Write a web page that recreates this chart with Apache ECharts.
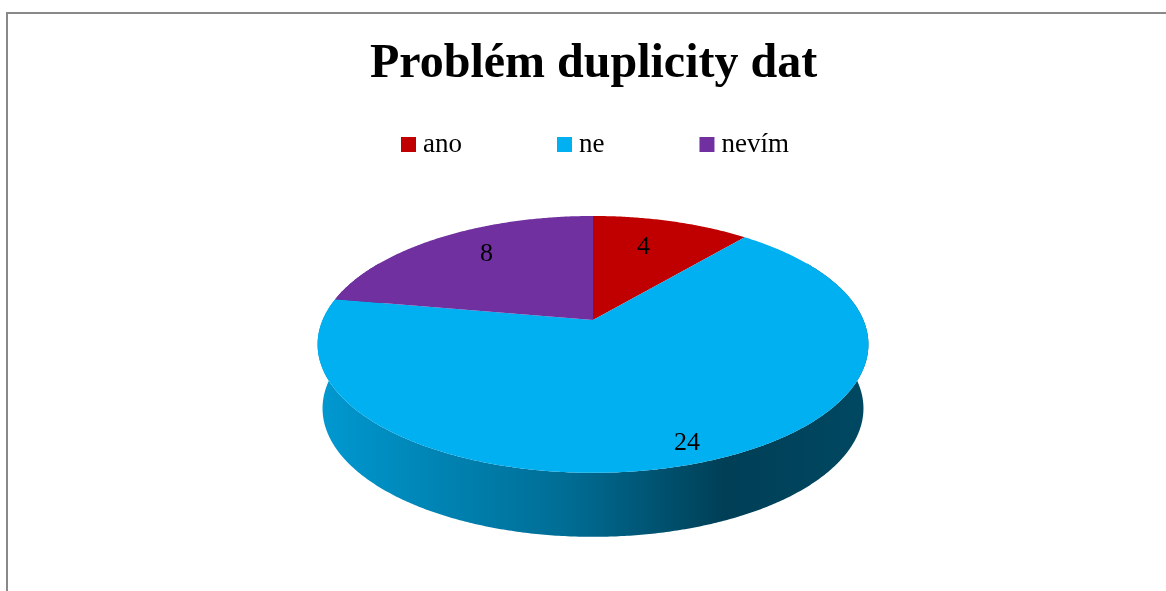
<!DOCTYPE html>
<html>
<head>
<meta charset="utf-8">
<script src="https://cdn.jsdelivr.net/npm/echarts@6/dist/echarts.min.js"></script>
<style>
  html, body { margin: 0; padding: 0; background: #fff; }
  #chart { width: 1166px; height: 591px; }
</style>
</head>
<body>
<div id="chart"></div>
<script>
// Data
const chartTitle = 'Problém duplicity dat';
const categories = ['ano', 'ne', 'nevím'];
const values = [4, 24, 8];
const colors = ['#C00000', '#00B0F0', '#7030A0'];

// Geometry of the tilted disc (perspective projection of a circle)
const disc = { cx: 593, cy: 320, rx: 270.4, ry: 123.8, k: 0.19, depth: 64, bottomScale: 0.982 };
// Range of angles (clockwise from 12 o'clock) where the rim faces the viewer
const rimRange = [60, 300];
// Label placement: fraction of the radius and a small pixel nudge
const labelFrac = [0.62, 0.86, 0.7];
const labelShift = [[-1, -8], [0, 5], [4, -6]];

const total = values.reduce((a, b) => a + b, 0);

function startAngle(i) {
  let acc = 0;
  for (let j = 0; j < i; j++) acc += values[j];
  return acc / total * 360;
}

function project(phiDeg, frac, bottom) {
  const p = phiDeg * Math.PI / 180;
  const u = Math.sin(p) * frac;
  const v = -Math.cos(p) * frac;
  const w = 1 - disc.k * v;
  const sx = bottom ? disc.bottomScale : 1;
  return [
    disc.cx + disc.rx * sx * u / w,
    disc.cy + (bottom ? disc.depth : 0) + disc.ry * v / w
  ];
}

function arc(a0, a1, bottom) {
  const pts = [];
  const n = Math.max(2, Math.ceil((a1 - a0) / 0.5));
  for (let i = 0; i <= n; i++) pts.push(project(a0 + (a1 - a0) * i / n, 1, bottom));
  return pts;
}

function shade(hex, f) {
  const n = parseInt(hex.slice(1), 16);
  const r = Math.round(((n >> 16) & 255) * f);
  const g = Math.round(((n >> 8) & 255) * f);
  const b = Math.round((n & 255) * f);
  return 'rgb(' + r + ',' + g + ',' + b + ')';
}

function rimFill(hex) {
  const left = disc.cx - disc.rx * 1.02, right = disc.cx + disc.rx * 1.02;
  return new echarts.graphic.LinearGradient(left, 0, right, 0, [
    { offset: 0, color: shade(hex, 0.87) },
    { offset: 0.45, color: shade(hex, 0.62) },
    { offset: 0.74, color: shade(hex, 0.36) },
    { offset: 1, color: shade(hex, 0.41) }
  ], true);
}

function renderSlice(idx) {
  return function (params, api) {
    const value = api.value(0);
    const a0 = startAngle(idx);
    const a1 = a0 + value / total * 360;
    const children = [];

    // Rim (visible front part of the slice's outer wall)
    const s0 = Math.max(a0, rimRange[0]);
    const s1 = Math.min(a1, rimRange[1]);
    if (s1 > s0) {
      const top = arc(s0, s1, false);
      const bot = arc(s0, s1, true).reverse();
      children.push({
        type: 'polygon',
        z2: 0,
        shape: { points: top.concat(bot) },
        style: { fill: rimFill(colors[idx]) }
      });
    }

    // Top face
    const face = [project(0, 0, false)].concat(arc(a0, a1, false));
    children.push({
      type: 'polygon',
      z2: 10,
      shape: { points: face },
      style: { fill: colors[idx] }
    });

    // Value label
    const mid = (a0 + a1) / 2;
    const lp = project(mid, labelFrac[idx], false);
    children.push({
      type: 'text',
      z2: 20,
      x: lp[0] + labelShift[idx][0],
      y: lp[1] + labelShift[idx][1],
      style: {
        text: String(value),
        fill: '#000',
        font: '26px "Liberation Serif", "Times New Roman", serif',
        align: 'center',
        verticalAlign: 'middle'
      }
    });

    return { type: 'group', children };
  };
}

const chart = echarts.init(document.getElementById('chart'), null, { renderer: 'canvas' });

chart.setOption({
  animation: false,
  backgroundColor: '#fff',
  color: colors,
  title: {
    text: chartTitle,
    left: 370,
    top: 41,
    padding: 0,
    textStyle: {
      fontFamily: '"Liberation Serif", "Times New Roman", serif',
      fontWeight: 'bold',
      fontSize: 48,
      color: '#000'
    }
  },
  legend: {
    data: categories,
    left: 401,
    top: 131,
    padding: 0,
    icon: 'rect',
    itemWidth: 15,
    itemHeight: 15,
    itemGap: 95,
    selectedMode: false,
    textStyle: {
      fontFamily: '"Liberation Serif", "Times New Roman", serif',
      fontSize: 27,
      color: '#000',
      padding: [4, 0, 0, 2]
    }
  },
  graphic: [{
    type: 'rect',
    silent: true,
    shape: { x: 7, y: 13, width: 1200, height: 700 },
    style: { fill: 'none', stroke: '#898989', lineWidth: 2 }
  }],
  series: categories.map((name, i) => ({
    type: 'custom',
    name: name,
    coordinateSystem: 'none',
    silent: true,
    data: [values[i]],
    renderItem: renderSlice(i)
  }))
});
</script>
</body>
</html>
